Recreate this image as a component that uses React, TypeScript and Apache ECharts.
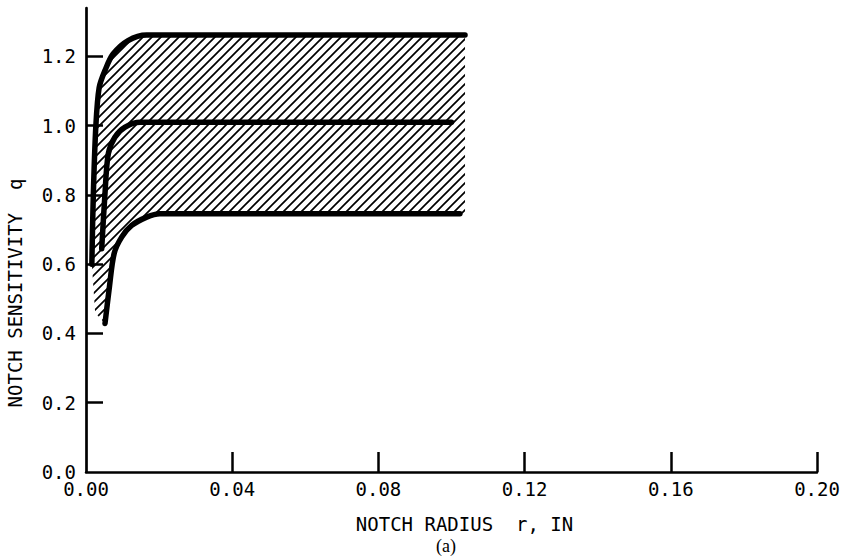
import React, { useEffect, useRef } from 'react';
import * as echarts from 'echarts';

// Axis ticks
const xTickValues = [0, 0.04, 0.08, 0.12, 0.16, 0.2];
const xTickMarks = [0.04, 0.08, 0.12, 0.16, 0.2];
const yTickValues = [0, 0.2, 0.4, 0.6, 0.8, 1.0, 1.2];
const yTickMarks = [0.2, 0.4, 0.6, 0.8, 1.0, 1.2];

// Upper bound curve
const upperX = [0.0016, 0.002, 0.0027, 0.0036, 0.0052, 0.0074, 0.0115, 0.0166, 0.035, 0.1037];
const upperQ = [0.6, 0.8, 1.0, 1.11, 1.16, 1.207, 1.246, 1.262, 1.262, 1.262];

// Middle curve
const middleX = [0.0043, 0.0052, 0.0061, 0.0079, 0.0107, 0.0148, 0.03, 0.1];
const middleQ = [0.645, 0.805, 0.919, 0.967, 0.996, 1.01, 1.01, 1.01];

// Lower bound curve
const lowerX = [0.0052, 0.0064, 0.0077, 0.0098, 0.0125, 0.0166, 0.0202, 0.035, 0.1023];
const lowerQ = [0.429, 0.534, 0.631, 0.679, 0.712, 0.736, 0.746, 0.746, 0.746];

// Hatched band closure points
const hatchLeftCorner = [0.0025, 0.46];

function makeHatch(): HTMLCanvasElement {
  const s = 9;
  const c = document.createElement('canvas');
  c.width = s;
  c.height = s;
  const ctx = c.getContext('2d')!;
  ctx.strokeStyle = '#000';
  ctx.lineWidth = 1.7;
  ctx.beginPath();
  ctx.moveTo(-1, s + 1);
  ctx.lineTo(s + 1, -1);
  ctx.moveTo(-2, 2);
  ctx.lineTo(2, -2);
  ctx.moveTo(s - 2, s + 2);
  ctx.lineTo(s + 2, s - 2);
  ctx.stroke();
  return c;
}

const FONT = 'DejaVu Sans Mono';

export default function App() {
  const ref = useRef<HTMLDivElement>(null);
  useEffect(() => {
    document.body.style.margin = '0';
    const chart = echarts.init(ref.current!, null, { renderer: 'svg' });
    const pattern: any = { image: makeHatch(), repeat: 'repeat', imageWidth: 9, imageHeight: 9 };
    const toPts = (xs: number[], qs: number[]) => xs.map((x, i) => [x, qs[i]]);
    const upper = toPts(upperX, upperQ);
    const lower = toPts(lowerX, lowerQ);
    const poly = [
      ...upper,
      [upperX[upperX.length - 1], lowerQ[lowerQ.length - 1]],
      ...lower.slice().reverse(),
      hatchLeftCorner,
    ];
    const lineStyle = { color: '#000', width: 5.5, cap: 'round', join: 'round' };
    chart.setOption({
      animation: false,
      backgroundColor: '#fff',
      grid: { left: 86, right: 31, top: 8, bottom: 85, containLabel: false },
      xAxis: {
        type: 'value',
        min: 0,
        max: 0.2,
        interval: 0.04,
        name: 'NOTCH RADIUS  r, IN',
        nameLocation: 'middle',
        nameGap: 42,
        nameTextStyle: { fontFamily: FONT, fontSize: 19, color: '#000', padding: [0, 0, 0, 26] },
        axisLine: { show: true, onZero: false, lineStyle: { color: '#000', width: 2.5 } },
        axisTick: { show: true, inside: true, length: 20, customValues: xTickMarks, lineStyle: { color: '#000', width: 2.5 } },
        axisLabel: {
          customValues: xTickValues,
          formatter: (v: number) => v.toFixed(2),
          fontFamily: FONT,
          fontSize: 19,
          color: '#000',
          margin: 7,
        },
        splitLine: { show: false },
      },
      yAxis: {
        type: 'value',
        min: 0,
        max: 1.34,
        axisLine: { show: true, onZero: false, lineStyle: { color: '#000', width: 2.7 } },
        axisTick: { show: true, inside: true, length: 17, customValues: yTickMarks, lineStyle: { color: '#000', width: 2.5 } },
        axisLabel: {
          customValues: yTickValues,
          formatter: (v: number) => v.toFixed(1),
          fontFamily: FONT,
          fontSize: 19,
          lineHeight: 13,
          color: '#000',
          margin: 10,
        },
        splitLine: { show: false },
      },
      graphic: [
        {
          type: 'text',
          x: 15,
          y: 293,
          rotation: Math.PI / 2,
          style: {
            text: 'NOTCH SENSITIVITY  q',
            font: `19px "${FONT}"`,
            fill: '#000',
            align: 'center',
            verticalAlign: 'middle',
          },
        },
        {
          type: 'text',
          x: 446,
          y: 546,
          style: {
            text: '(a)',
            font: '18px "Liberation Serif", serif',
            fill: '#000',
            align: 'center',
            verticalAlign: 'middle',
          },
        },
      ],
      series: [
        {
          type: 'custom',
          coordinateSystem: 'cartesian2d',
          silent: true,
          z: 1,
          data: [[0, 0]],
          renderItem: (_params: any, api: any) => ({
            type: 'polygon',
            shape: { points: poly.map((p) => api.coord(p)) },
            style: { fill: pattern, stroke: 'none' },
          }),
        },
        { type: 'line', data: upper, symbol: 'none', smooth: 0.3, lineStyle, z: 3, silent: true },
        { type: 'line', data: toPts(middleX, middleQ), symbol: 'none', smooth: 0.3, lineStyle, z: 3, silent: true },
        { type: 'line', data: lower, symbol: 'none', smooth: 0.3, lineStyle, z: 3, silent: true },
      ],
    });
    return () => chart.dispose();
  }, []);
  return <div ref={ref} style={{ width: 848, height: 557 }} />;
}
